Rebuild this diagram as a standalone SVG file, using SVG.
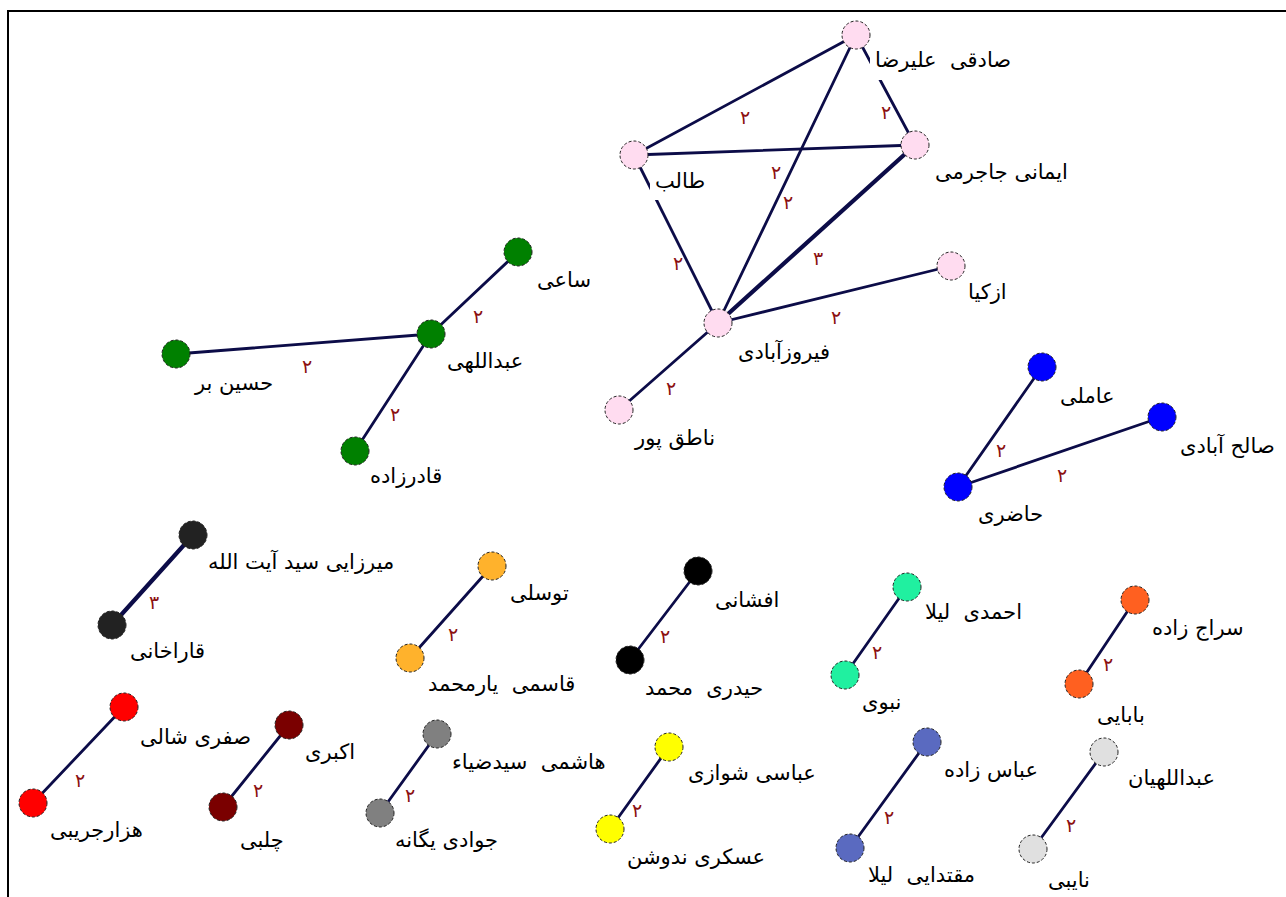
<svg xmlns="http://www.w3.org/2000/svg" width="1286" height="897" viewBox="0 0 1286 897">
<style>
.e{stroke:#0c0c48;stroke-width:2.8;fill:none;stroke-linecap:round}
.e3{stroke:#0c0c48;stroke-width:4.2;fill:none;stroke-linecap:round}
.w{font-family:"DejaVu Sans",sans-serif;font-size:19px;fill:#8b1010;text-anchor:middle}
.n circle{stroke:#222;stroke-width:1;stroke-dasharray:3,2}
.n text{font-family:"DejaVu Sans",sans-serif;font-size:21px;fill:#000;white-space:pre}
.bg{fill:#fff}
</style>
<rect width="1286" height="897" fill="#fff"/>
<path d="M8,897 V11 H1286" stroke="#000" stroke-width="2" fill="none"/>
<g id="connectors">
<line class="e" x1="856" y1="35" x2="634" y2="155"/><text class="w" x="745" y="124">۲</text>
<line class="e" x1="856" y1="35" x2="915" y2="145"/><text class="w" x="886" y="119">۲</text>
<line class="e" x1="634" y1="155" x2="915" y2="145"/><text class="w" x="776" y="179">۲</text>
<line class="e" x1="856" y1="35" x2="718" y2="323"/><text class="w" x="788" y="209">۲</text>
<line class="e3" x1="915" y1="145" x2="718" y2="323"/><text class="w" x="818" y="265">۳</text>
<line class="e" x1="634" y1="155" x2="718" y2="323"/><text class="w" x="678" y="270">۲</text>
<line class="e" x1="951" y1="266" x2="718" y2="323"/><text class="w" x="836" y="324">۲</text>
<line class="e" x1="619" y1="410" x2="718" y2="323"/><text class="w" x="671" y="395">۲</text>
<line class="e" x1="518" y1="252" x2="431" y2="334"/><text class="w" x="478" y="323">۲</text>
<line class="e" x1="176" y1="354" x2="431" y2="334"/><text class="w" x="307" y="373">۲</text>
<line class="e" x1="355" y1="451" x2="431" y2="334"/><text class="w" x="395" y="421">۲</text>
<line class="e" x1="1042" y1="367" x2="958" y2="487"/><text class="w" x="1001" y="457">۲</text>
<line class="e" x1="1162" y1="417" x2="958" y2="487"/><text class="w" x="1062" y="482">۲</text>
<line class="e3" x1="193" y1="535" x2="112" y2="625"/><text class="w" x="154" y="609">۳</text>
<line class="e" x1="492" y1="566" x2="410" y2="658"/><text class="w" x="453" y="641">۲</text>
<line class="e" x1="698" y1="571" x2="630" y2="660"/><text class="w" x="665" y="643">۲</text>
<line class="e" x1="907" y1="587" x2="845" y2="675"/><text class="w" x="877" y="659">۲</text>
<line class="e" x1="1135" y1="600" x2="1079" y2="684"/><text class="w" x="1108" y="671">۲</text>
<line class="e" x1="124" y1="707" x2="33" y2="803"/><text class="w" x="80" y="787">۲</text>
<line class="e" x1="289" y1="725" x2="223" y2="807"/><text class="w" x="258" y="797">۲</text>
<line class="e" x1="437" y1="734" x2="380" y2="813"/><text class="w" x="410" y="802">۲</text>
<line class="e" x1="669" y1="747" x2="610" y2="829"/><text class="w" x="637" y="817">۲</text>
<line class="e" x1="927" y1="742" x2="850" y2="848"/><text class="w" x="889" y="824">۲</text>
<line class="e" x1="1104" y1="752" x2="1033" y2="849"/><text class="w" x="1071" y="832">۲</text>
</g>
<g id="n1" class="n"><circle cx="856" cy="35" r="14" fill="#ffdcf0"/><rect class="bg" x="870" y="44" width="138" height="36"/><text x="875" y="67">صادقی  علیرضا</text></g>
<g id="n2" class="n"><circle cx="634" cy="155" r="14" fill="#ffdcf0"/><rect class="bg" x="650" y="166" width="60" height="34"/><text x="655" y="188">طالب</text></g>
<g id="n3" class="n"><circle cx="915" cy="145" r="14" fill="#ffdcf0"/><text x="935" y="179">ایمانی جاجرمی</text></g>
<g id="n4" class="n"><circle cx="718" cy="323" r="14" fill="#ffdcf0"/><text x="738" y="359">فیروزآبادی</text></g>
<g id="n5" class="n"><circle cx="951" cy="266" r="14" fill="#ffdcf0"/><text x="968" y="299">ازکیا</text></g>
<g id="n6" class="n"><circle cx="619" cy="410" r="14" fill="#ffdcf0"/><text x="635" y="445">ناطق پور</text></g>
<g id="n7" class="n"><circle cx="518" cy="252" r="14" fill="#008000"/><text x="537" y="287">ساعی</text></g>
<g id="n8" class="n"><circle cx="431" cy="334" r="14" fill="#008000"/><text x="447" y="368">عبداللهی</text></g>
<g id="n9" class="n"><circle cx="176" cy="354" r="14" fill="#008000"/><text x="195" y="390">حسین بر</text></g>
<g id="n10" class="n"><circle cx="355" cy="451" r="14" fill="#008000"/><text x="370" y="483">قادرزاده</text></g>
<g id="n11" class="n"><circle cx="1042" cy="367" r="14" fill="#0000ff"/><text x="1060" y="403">عاملی</text></g>
<g id="n12" class="n"><circle cx="1162" cy="417" r="14" fill="#0000ff"/><text x="1180" y="453">صالح آبادی</text></g>
<g id="n13" class="n"><circle cx="958" cy="487" r="14" fill="#0000ff"/><text x="978" y="521">حاضری</text></g>
<g id="n14" class="n"><circle cx="193" cy="535" r="14" fill="#222222"/><text x="208" y="569">میرزایی سید آیت الله</text></g>
<g id="n15" class="n"><circle cx="112" cy="625" r="14" fill="#222222"/><text x="130" y="658">قاراخانی</text></g>
<g id="n16" class="n"><circle cx="492" cy="566" r="14" fill="#ffb22c"/><text x="510" y="600">توسلی</text></g>
<g id="n17" class="n"><circle cx="410" cy="658" r="14" fill="#ffb22c"/><text x="428" y="691">قاسمی  یارمحمد</text></g>
<g id="n18" class="n"><circle cx="698" cy="571" r="14" fill="#000000"/><text x="715" y="607">افشانی</text></g>
<g id="n19" class="n"><circle cx="630" cy="660" r="14" fill="#000000"/><text x="645" y="695">حیدری  محمد</text></g>
<g id="n20" class="n"><circle cx="907" cy="587" r="14" fill="#20f0a0"/><text x="925" y="619">احمدی  لیلا</text></g>
<g id="n21" class="n"><circle cx="845" cy="675" r="14" fill="#20f0a0"/><text x="862" y="709">نبوی</text></g>
<g id="n22" class="n"><circle cx="1135" cy="600" r="14" fill="#ff6020"/><text x="1152" y="635">سراج زاده</text></g>
<g id="n23" class="n"><circle cx="1079" cy="684" r="14" fill="#ff6020"/><text x="1097" y="722">بابایی</text></g>
<g id="n24" class="n"><circle cx="124" cy="707" r="14" fill="#ff0000"/><text x="140" y="744">صفری شالی</text></g>
<g id="n25" class="n"><circle cx="33" cy="803" r="14" fill="#ff0000"/><text x="50" y="837">هزارجریبی</text></g>
<g id="n26" class="n"><circle cx="289" cy="725" r="14" fill="#7a0000"/><text x="305" y="759">اکبری</text></g>
<g id="n27" class="n"><circle cx="223" cy="807" r="14" fill="#7a0000"/><text x="240" y="847">چلبی</text></g>
<g id="n28" class="n"><circle cx="437" cy="734" r="14" fill="#808080"/><text x="452" y="769">هاشمی  سیدضیاء</text></g>
<g id="n29" class="n"><circle cx="380" cy="813" r="14" fill="#808080"/><text x="395" y="847">جوادی یگانه</text></g>
<g id="n30" class="n"><circle cx="669" cy="747" r="14" fill="#ffff00"/><text x="688" y="780">عباسی شوازی</text></g>
<g id="n31" class="n"><circle cx="610" cy="829" r="14" fill="#ffff00"/><text x="627" y="864">عسکری ندوشن</text></g>
<g id="n32" class="n"><circle cx="927" cy="742" r="14" fill="#5a6ac0"/><text x="944" y="777">عباس زاده</text></g>
<g id="n33" class="n"><circle cx="850" cy="848" r="14" fill="#5a6ac0"/><text x="868" y="882">مقتدایی  لیلا</text></g>
<g id="n34" class="n"><circle cx="1104" cy="752" r="14" fill="#e0e0e0"/><text x="1128" y="785">عبداللهیان</text></g>
<g id="n35" class="n"><circle cx="1033" cy="849" r="14" fill="#e0e0e0"/><text x="1048" y="887">نایبی</text></g>
</svg>
